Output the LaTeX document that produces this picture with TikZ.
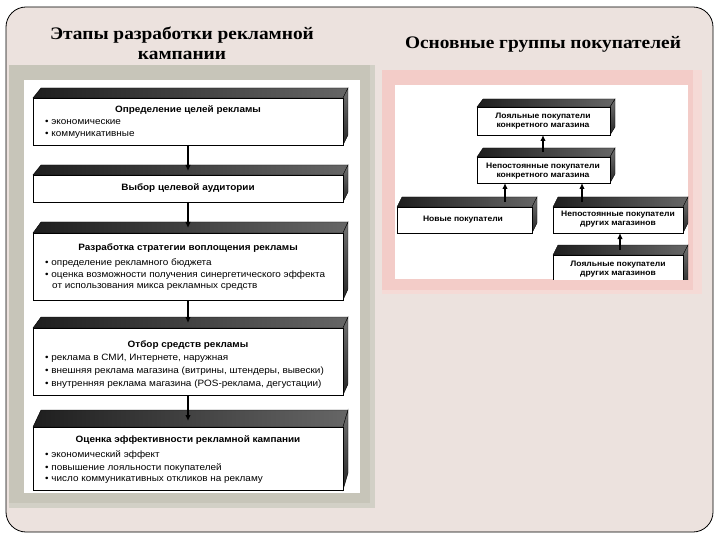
\documentclass[tikz,border=0pt]{standalone}
\usepackage{fontspec}
\setmainfont{Liberation Sans}
\newfontfamily\titlefont[FakeStretch=1.1]{Liberation Serif}
\newfontfamily\widesans[FakeStretch=1.08]{Liberation Sans}
\usetikzlibrary{arrows.meta,calc}
\definecolor{framebg}{HTML}{ECE2DE}
\definecolor{grayout}{HTML}{D2D0C6}
\definecolor{grayin}{HTML}{C7C5B9}
\definecolor{pinkout}{HTML}{F5DAD6}
\definecolor{pinkin}{HTML}{F3CCC8}
\tikzset{
  frame/.style={draw=black, line width=0.8pt, fill=framebg, rounded corners=20pt},
  htitle/.style={font=\titlefont\bfseries\fontsize{17.6}{20}\selectfont, align=center, inner sep=0pt},
  topface/.style={draw=black, line width=0.4pt, left color=black!88, right color=black!60},
  sideface/.style={draw=black, line width=0.4pt, top color=black!55, bottom color=black!85},
  front/.style={draw=black, line width=0.6pt, fill=white, inner sep=0pt, outer sep=0pt},
  ttl/.style={font=\widesans\bfseries\fontsize{9.2}{11}\selectfont, inner sep=0pt},
  bul/.style={font=\widesans\fontsize{9.2}{10}\selectfont, anchor=west, inner sep=0pt},
  rtxt/.style={font=\widesans\bfseries\fontsize{7.9}{9}\selectfont, align=center, inner sep=0pt},
  arr/.style={draw=black, line width=1.3pt, -{Latex[length=6pt,width=5.5pt]}},
}
% name, x1, y1, x2, y2, depth dy, left shift dl
\newcommand\threedbox[7]{%
  \path[topface] (#2,#3) -- ({#2+#7},{#3-#6}) -- ({#4+5},{#3-#6}) -- (#4,#3) -- cycle;
  \path[sideface] (#4,#3) -- ({#4+5},{#3-#6}) -- ({#4+5},{#5-#6}) -- (#4,#5) -- cycle;
  \node[front, minimum width={#4-#2}, minimum height={#5-#3}] (#1) at ({(#2+#4)/2},{(#3+#5)/2}) {};
}
\begin{document}
\begin{tikzpicture}[x=1pt,y=-1pt]
\useasboundingbox (0,0) rectangle (720,540);
\path[fill=white] (0,0) rectangle (720,540);
\path[frame] (6,7) rectangle (713,532);
% titles
\node[htitle] (h1) at (182,43) {Этапы разработки рекламной\\кампании};
\node[htitle] (h2) at (543,44) {Основные группы покупателей};
% left panel
\path[fill=grayout] (9,65) rectangle (375,508);
\path[fill=grayin] (9,65) rectangle (370,503);
\path[fill=white] (24,80) rectangle (360,493);
% left boxes
\threedbox{s1}{33}{98}{343}{145}{10}{8}
\threedbox{s2}{33}{175}{343}{202}{10}{8}
\threedbox{s3}{33}{233}{343}{300}{11}{8}
\threedbox{s4}{33}{328}{343}{395}{11}{8}
\threedbox{s5}{33}{427}{343}{490}{17}{8}
\coordinate (c2) at (188,171);
\coordinate (c3) at (188,228);
\coordinate (c4) at (188,323);
\coordinate (c5) at (188,421);
\draw[arr] (s1.south -| c2) -- (c2);
\draw[arr] (s2.south -| c3) -- (c3);
\draw[arr] (s3.south -| c4) -- (c4);
\draw[arr] (s4.south -| c5) -- (c5);
% left texts
\node[ttl] (t1) at (188,110) {Определение целей рекламы};
\node[bul] (t1a) at (45,122) {• экономические};
\node[bul] (t1b) at (45,135) {• коммуникативные};
\node[ttl] (t2) at (188,188) {Выбор целевой аудитории};
\node[ttl] (t3) at (188,248) {Разработка стратегии воплощения рекламы};
\node[bul] (t3a) at (45,263) {• определение рекламного бюджета};
\node[bul] (t3b) at (45,275) {• оценка возможности получения синергетического эффекта};
\node[bul] (t3c) at (52,287) {от использования микса рекламных средств};
\node[ttl] (t4) at (188,345) {Отбор средств рекламы};
\node[bul] (t4a) at (45,358) {• реклама в СМИ, Интернете, наружная};
\node[bul] (t4b) at (45,371) {• внешняя реклама магазина (витрины, штендеры, вывески)};
\node[bul] (t4c) at (45,384) {• внутренняя реклама магазина (POS-реклама, дегустации)};
\node[ttl] (t5) at (188,440) {Оценка эффективности рекламной кампании};
\node[bul] (t5a) at (45,455) {• экономический эффект};
\node[bul] (t5b) at (45,468) {• повышение лояльности покупателей};
\node[bul] (t5c) at (45,480) {• число коммуникативных откликов на рекламу};
% right panel
\path[fill=pinkout] (382,70) rectangle (702,294);
\path[fill=pinkin] (382,70) rectangle (693,290);
\path[fill=white] (395,85) rectangle (688,279);
\begin{scope}
\clip (395,85) rectangle (688,279);
\threedbox{ra}{477}{107}{610}{135}{8}{6}
\threedbox{rb}{477}{157}{610}{183}{9}{6}
\threedbox{rc}{397}{207}{532}{233}{10}{5}
\threedbox{rd}{553}{207}{683}{233}{10}{5}
\threedbox{re}{553}{255}{683}{290}{10}{5}
\coordinate (cb) at (543,152);
\coordinate (cc) at (505,202);
\coordinate (cd) at (582,202);
\coordinate (ce) at (620,250);
\draw[arr] (cb) -- (ra.south -| cb);
\draw[arr] (cc) -- (rb.south -| cc);
\draw[arr] (cd) -- (rb.south -| cd);
\draw[arr] (ce) -- (rd.south -| ce);
\node[rtxt] (ta) at (543,121) {Лояльные покупатели\\конкретного магазина};
\node[rtxt] (tb) at (543,171) {Непостоянные покупатели\\конкретного магазина};
\node[rtxt] (tc) at (463,220) {Новые покупатели};
\node[rtxt] (td) at (618,219) {Непостоянные покупатели\\других магазинов};
\node[rtxt] (te) at (618,269) {Лояльные покупатели\\других магазинов};
\end{scope}
\end{tikzpicture}
\end{document}
